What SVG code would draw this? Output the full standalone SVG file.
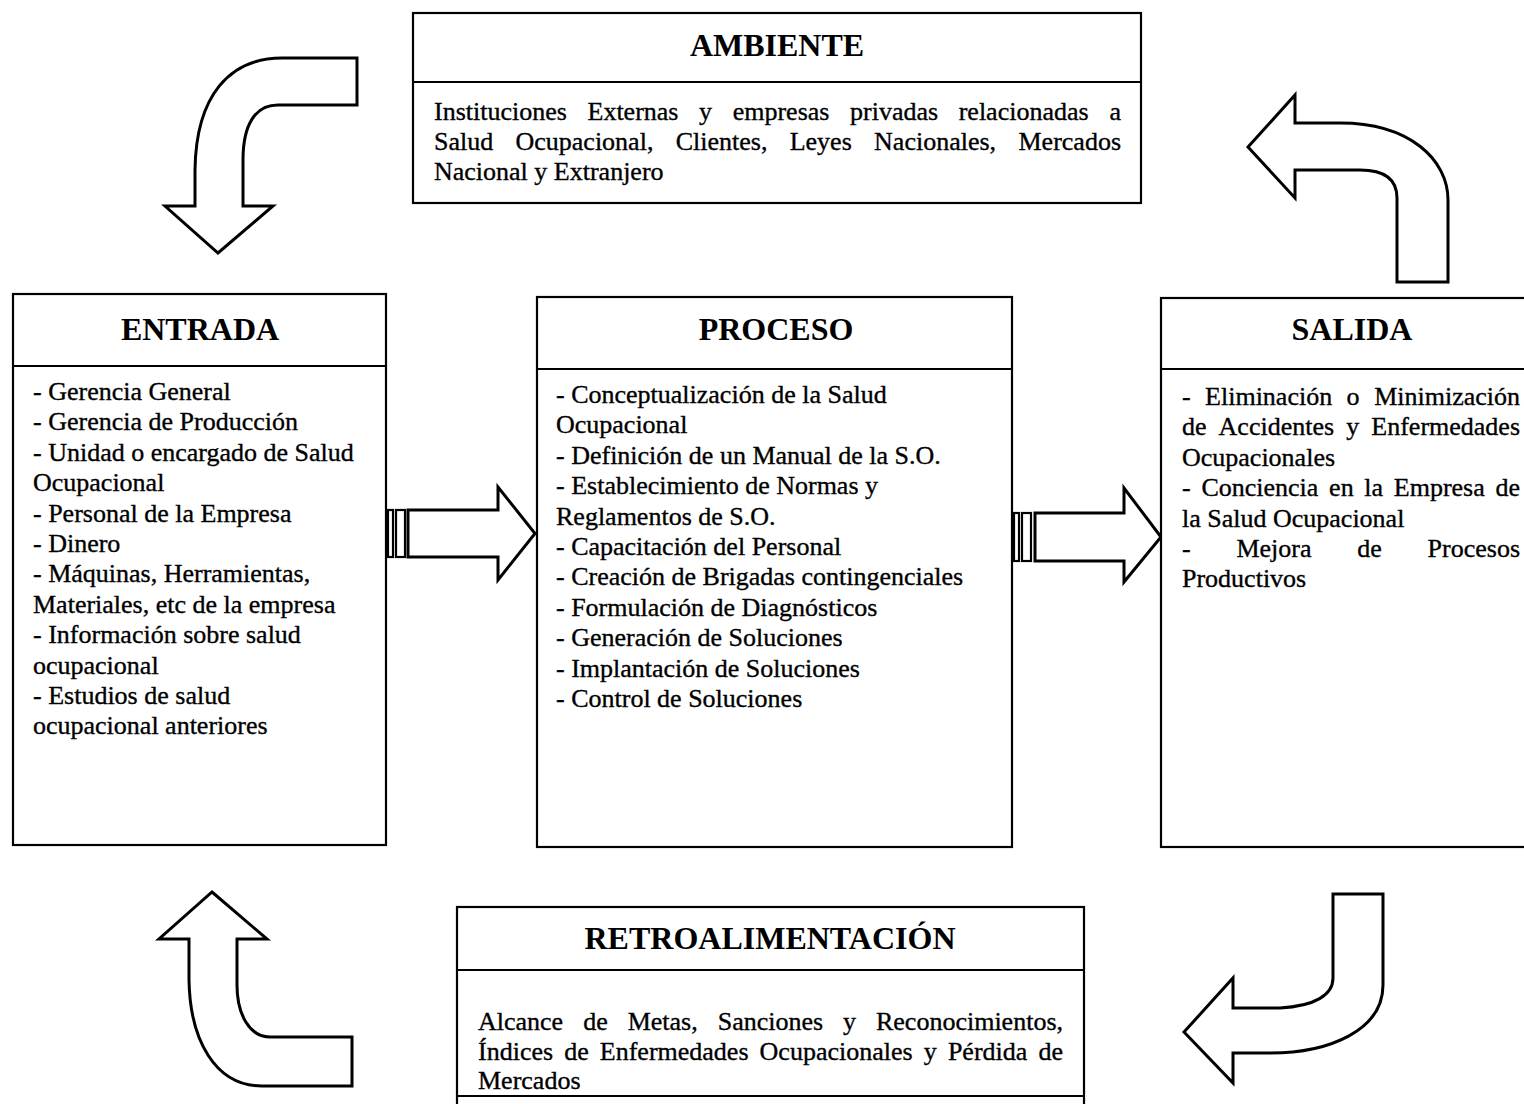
<svg xmlns="http://www.w3.org/2000/svg" width="1524" height="1104" viewBox="0 0 1524 1104">
  <style>
    .box { fill: #fff; stroke: #000; stroke-width: 2.2; }
    .rule { stroke: #000; stroke-width: 2.2; fill: none; }
    .title { font-family: "Liberation Serif", "Times New Roman", serif; font-size: 32px; font-weight: bold; fill: #000; text-anchor: middle; }
    .body { font-family: "Liberation Serif", "Times New Roman", serif; font-size: 26px; fill: #000; stroke: #000; stroke-width: 0.35; }
    .end { text-anchor: end; }
    .arrow { fill: #fff; stroke: #000; stroke-width: 3; stroke-linejoin: miter; }
    .stripe { fill: #fff; stroke: #000; stroke-width: 2.2; }
  </style>
  <rect width="1524" height="1104" fill="#fff"/>

  <!-- connectors: curved cycle arrows and striped block arrows -->
  <g id="connectors">
    <path class="arrow" d="M357,58 L282,58 C230,58 196,95 195,170 L195,206 L165,206 L218,253 L273,206 L243,206 L243,160 C243,125 255,105 278,105 L357,105 Z"/>
    <path class="arrow" d="M1248,147 L1295,95 L1295,123 L1340,123 C1410,123 1448,160 1448,200 L1448,282 L1397,282 L1397,198 C1397,180 1385,170 1360,170 L1295,170 L1295,198 Z"/>
    <path class="arrow" d="M1184,1032 L1233,978 L1233,1008 L1280,1008 C1315,1006 1333,995 1333,978 L1333,894 L1383,894 L1383,985 C1383,1030 1330,1053 1270,1053 L1233,1053 L1233,1083 Z"/>
    <path class="arrow" d="M212,892 L267,939 L237,939 L237,985 C237,1015 250,1037 270,1037 L352,1037 L352,1086 L262,1086 C215,1086 190,1040 189,980 L189,939 L159,939 Z"/>
    <g id="arrow-entrada-proceso">
      <rect class="stripe" x="388" y="510" width="5" height="47"/>
      <rect class="stripe" x="396" y="510" width="9" height="47"/>
      <path class="arrow" d="M408,510 L498,510 L498,487 L535,533.5 L498,580 L498,557 L408,557 Z"/>
    </g>
    <g id="arrow-proceso-salida">
      <rect class="stripe" x="1014" y="513" width="5" height="48"/>
      <rect class="stripe" x="1022" y="513" width="9" height="48"/>
      <path class="arrow" d="M1035,513 L1124,513 L1124,488 L1161,537 L1124,582 L1124,561 L1035,561 Z"/>
    </g>
  </g>

  <g id="ambiente">
    <rect class="box" x="413" y="13" width="728" height="190"/>
    <line class="rule" x1="413" y1="82" x2="1141" y2="82"/>
    <text class="title" x="777" y="56">AMBIENTE</text>
    <text class="body" y="120"><tspan x="434">Instituciones</tspan><tspan x="587.5">Externas</tspan><tspan x="699.1">y</tspan><tspan x="732.7">empresas</tspan><tspan x="850">privadas</tspan><tspan x="958.7">relacionadas</tspan></text>
    <text class="body end" x="1121" y="120">a</text>
    <text class="body" y="150"><tspan x="434">Salud</tspan><tspan x="515.5">Ocupacional,</tspan><tspan x="675.7">Clientes,</tspan><tspan x="789.7">Leyes</tspan><tspan x="874.1">Nacionales,</tspan></text>
    <text class="body end" x="1121" y="150">Mercados</text>
    <text class="body" x="434" y="180">Nacional y Extranjero</text>
  </g>

  <g id="entrada">
    <rect class="box" x="13" y="294" width="373" height="551"/>
    <line class="rule" x1="13" y1="366" x2="386" y2="366"/>
    <text class="title" x="200" y="340">ENTRADA</text>
    <text class="body" x="33" y="400">- Gerencia General</text>
    <text class="body" x="33" y="430.4">- Gerencia de Producción</text>
    <text class="body" x="33" y="460.8">- Unidad o encargado de Salud</text>
    <text class="body" x="33" y="491.2">Ocupacional</text>
    <text class="body" x="33" y="521.6">- Personal de la Empresa</text>
    <text class="body" x="33" y="552">- Dinero</text>
    <text class="body" x="33" y="582.4">- Máquinas, Herramientas,</text>
    <text class="body" x="33" y="612.8">Materiales, etc de la empresa</text>
    <text class="body" x="33" y="643.2">- Información sobre salud</text>
    <text class="body" x="33" y="673.6">ocupacional</text>
    <text class="body" x="33" y="704">- Estudios de salud</text>
    <text class="body" x="33" y="734.4">ocupacional anteriores</text>
  </g>

  <g id="proceso">
    <rect class="box" x="537" y="297" width="475" height="550"/>
    <line class="rule" x1="537" y1="369" x2="1012" y2="369"/>
    <text class="title" x="776" y="340">PROCESO</text>
    <text class="body" x="556" y="403">- Conceptualización de la Salud</text>
    <text class="body" x="556" y="433.4">Ocupacional</text>
    <text class="body" x="556" y="463.8">- Definición de un Manual de la S.O.</text>
    <text class="body" x="556" y="494.2">- Establecimiento de Normas y</text>
    <text class="body" x="556" y="524.6">Reglamentos de S.O.</text>
    <text class="body" x="556" y="555">- Capacitación del Personal</text>
    <text class="body" x="556" y="585.4">- Creación de Brigadas contingenciales</text>
    <text class="body" x="556" y="615.8">- Formulación de Diagnósticos</text>
    <text class="body" x="556" y="646.2">- Generación de Soluciones</text>
    <text class="body" x="556" y="676.6">- Implantación de Soluciones</text>
    <text class="body" x="556" y="707">- Control de Soluciones</text>
  </g>

  <g id="salida">
    <rect class="box" x="1161" y="298" width="384" height="549"/>
    <line class="rule" x1="1161" y1="369" x2="1545" y2="369"/>
    <text class="title" x="1352" y="340">SALIDA</text>
    <text class="body" y="405"><tspan x="1182">-</tspan><tspan x="1205.1">Eliminación</tspan><tspan x="1346.6">o</tspan></text>
    <text class="body end" x="1520" y="405">Minimización</text>
    <text class="body" y="435.4"><tspan x="1182">de</tspan><tspan x="1218.6">Accidentes</tspan><tspan x="1346.2">y</tspan></text>
    <text class="body end" x="1520" y="435.4">Enfermedades</text>
    <text class="body" x="1182" y="465.8">Ocupacionales</text>
    <text class="body" y="496.2"><tspan x="1182">-</tspan><tspan x="1201.4">Conciencia</tspan><tspan x="1329.1">en</tspan><tspan x="1364.3">la</tspan><tspan x="1393.8">Empresa</tspan></text>
    <text class="body end" x="1520" y="496.2">de</text>
    <text class="body" x="1182" y="526.6">la Salud Ocupacional</text>
    <text class="body" y="557"><tspan x="1182">-</tspan><tspan x="1236.4">Mejora</tspan><tspan x="1357.3">de</tspan></text>
    <text class="body end" x="1520" y="557">Procesos</text>
    <text class="body" x="1182" y="587.4">Productivos</text>
  </g>

  <g id="retroalimentacion">
    <rect class="box" x="457" y="907" width="627" height="220"/>
    <line class="rule" x1="457" y1="970" x2="1084" y2="970"/>
    <line class="rule" x1="457" y1="1096" x2="1084" y2="1096"/>
    <text class="title" x="770" y="949">RETROALIMENTACIÓN</text>
    <text class="body" y="1030"><tspan x="478">Alcance</tspan><tspan x="583.2">de</tspan><tspan x="627.7">Metas,</tspan><tspan x="717.7">Sanciones</tspan><tspan x="843.1">y</tspan></text>
    <text class="body end" x="1063" y="1030">Reconocimientos,</text>
    <text class="body" y="1060"><tspan x="478">Índices</tspan><tspan x="564.2">de</tspan><tspan x="599.8">Enfermedades</tspan><tspan x="759.6">Ocupacionales</tspan><tspan x="923.8">y</tspan><tspan x="947.9">Pérdida</tspan></text>
    <text class="body end" x="1063" y="1060">de</text>
    <text class="body" x="478" y="1089">Mercados</text>
  </g>
</svg>
